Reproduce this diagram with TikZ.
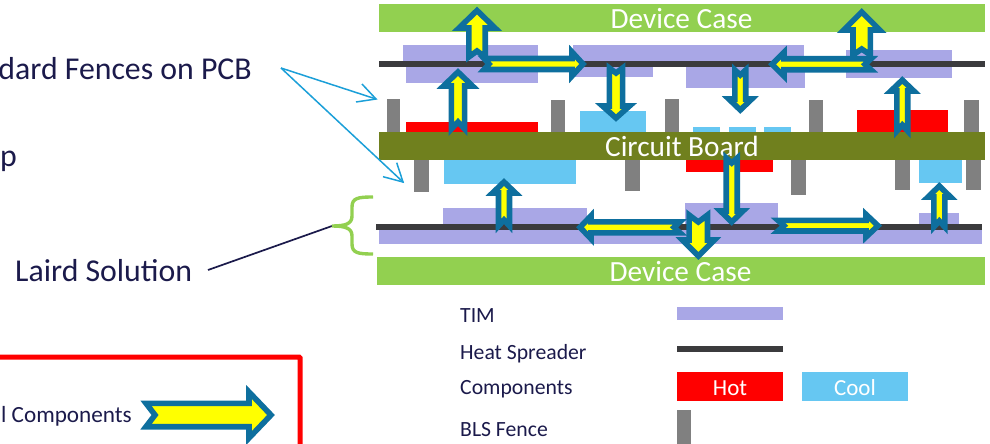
\documentclass[tikz,border=0pt]{standalone}
\usepackage{fontspec}
\setmainfont{Carlito}
\definecolor{timc}{HTML}{A9A7E6}
\definecolor{sprc}{HTML}{3B3B3D}
\definecolor{casec}{HTML}{92D050}
\definecolor{boardc}{HTML}{70801E}
\definecolor{coolc}{HTML}{66C7F2}
\definecolor{fencec}{HTML}{808080}
\definecolor{navyc}{HTML}{1B1A4B}
\definecolor{flowc}{HTML}{0E6F9E}
\definecolor{thinc}{HTML}{1B9FD8}
\definecolor{flowfill}{RGB}{255,255,0}
\definecolor{hotred}{RGB}{255,0,0}
\tikzset{
  x=1pt,y=-1pt,
  tim/.style={fill=timc,draw=none},
  spr/.style={fill=sprc,draw=none},
  casebar/.style={fill=casec,draw=none},
  boardbar/.style={fill=boardc,draw=none},
  hotc/.style={fill=hotred,draw=none},
  cool/.style={fill=coolc,draw=none},
  fence/.style={fill=fencec,draw=none},
  barlabel/.style={text=white,font=\fontsize{29.3}{30}\selectfont,inner sep=0pt,anchor=base},
  leglabel/.style={text=navyc,font=\fontsize{21.7}{22}\selectfont,anchor=base west,inner sep=0pt},
  keylabel/.style={text=white,font=\fontsize{23}{24}\selectfont,anchor=base,inner sep=0pt},
  biglabel/.style={text=navyc,font=\fontsize{31.8}{32}\selectfont,inner sep=0pt},
  flow/.style={fill=flowfill,draw=flowc,line width=5.6pt,line join=miter,miter limit=10},
  thinline/.style={draw=thinc,line width=1.5pt},
}
% x y angle L s h a n
\newcommand{\flowarrow}[8]{%
  \begin{scope}[shift={(#1,#2)},rotate=#3]
    \draw[flow] (0,-#5)--(#4-#7,-#5)--(#4-#7,-#6-1)--(#4,0)--(#4-#7,#6+1)--(#4-#7,#5)--(0,#5)--(#8,0)--cycle;
  \end{scope}}
\newcommand{\barr}[5]{\path[#1] (#2,#3) rectangle (#4,#5);}
\begin{document}
\begin{tikzpicture}
\useasboundingbox (0,0) rectangle (990,444);
\clip (0,0) rectangle (990,444);
% top stack
\barr{casebar}{379}{4}{985}{32}
\barr{tim}{403}{45}{538}{61}
\barr{tim}{406}{66}{538}{83}
\barr{tim}{573}{45}{804}{61}
\barr{tim}{573}{66}{653}{77}
\barr{tim}{686}{66}{805}{88}
\barr{tim}{846}{50}{952}{78}
\barr{spr}{379}{61}{985}{67}
\barr{fence}{387}{99}{400}{133}
\barr{fence}{551}{100}{565}{133}
\barr{fence}{665}{99}{679}{133}
\barr{fence}{809}{100}{823}{133}
\barr{fence}{964}{100}{979}{133}
\barr{hotc}{406}{122}{538}{133}
\barr{cool}{580}{111}{646}{133}
\barr{cool}{693}{127}{720}{133}
\barr{cool}{729}{127}{756}{133}
\barr{cool}{764}{127}{791}{133}
\barr{hotc}{857}{110}{948}{133}
% lower stack
\barr{fence}{414}{160}{429}{192}
\barr{fence}{625}{160}{640}{191}
\barr{fence}{791}{160}{806}{195}
\barr{fence}{895}{160}{910}{190}
\barr{fence}{966}{160}{981}{190}
\barr{cool}{444}{160}{576}{184}
\barr{cool}{919}{159}{962}{183}
\barr{hotc}{686}{160}{773}{172}
\barr{boardbar}{379}{132}{985}{160}
\node[barlabel] (board) at (682,156.5) {Circuit Board};
\barr{tim}{443}{208}{587}{224}
\barr{tim}{685}{203}{778}{224}
\barr{tim}{919}{213}{959}{224}
\barr{tim}{379}{230}{982}{244}
\barr{spr}{376}{224}{982}{230}
\barr{casebar}{377}{257}{985}{285}
\node[barlabel] (topcase) at (681.5,28.2) {Device Case};
\node[barlabel] (botcase) at (680.5,281) {Device Case};
% flow arrows
\flowarrow{477}{57}{90}{46.5}{8.2}{17}{17.5}{6}
\flowarrow{458}{129}{90}{57}{6.6}{13.5}{14}{7}
\flowarrow{484}{64}{0}{99}{5.5}{11}{11}{5}
\flowarrow{616}{68}{-90}{50}{6.6}{12.5}{12}{5}
\flowarrow{871}{64.3}{180}{99}{5.5}{11}{12}{6}
\flowarrow{861.7}{55}{90}{43}{8.7}{17}{18}{6}
\flowarrow{740.3}{70}{-90}{40}{5.4}{10.5}{11}{5}
\flowarrow{902.3}{131}{90}{51}{5.4}{10.5}{11}{6}
\flowarrow{504}{226}{90}{44}{5.5}{10.5}{11}{6}
\flowarrow{680}{227.3}{180}{100}{5.5}{10.5}{11}{6}
\flowarrow{731.7}{158}{-90}{64}{5.5}{10.3}{11}{5}
\flowarrow{778}{225.7}{0}{100}{5.3}{10.3}{12}{6}
\flowarrow{939.3}{227}{90}{41}{5.5}{10.3}{11}{6}
\flowarrow{698.3}{215}{-90}{41}{9.2}{15}{16}{7}
% left annotations
\node[biglabel,anchor=base east] (fences) at (252,79.5) {dard Fences on PCB};
\node[biglabel,anchor=base west] (gap) at (0,166) {p};
\node[biglabel,anchor=base west] (laird) at (15,281) {Laird Solution};
\coordinate (fromfences) at (281,68);
\coordinate (fenceA) at (376,99);
\coordinate (fenceB) at (403,182);
\coordinate (barbA1) at (362,84);
\coordinate (barbA2) at (356,102);
\coordinate (barbB1) at (396.7,162.7);
\coordinate (barbB2) at (383,176.7);
\draw[thinline] (fromfences) -- (fenceA);
\draw[thinline] (fromfences) -- (fenceB);
\draw[thinline] (barbA1) -- (fenceA) -- (barbA2);
\draw[thinline] (barbB1) -- (fenceB) -- (barbB2);
\coordinate (bracetip) at (332,226);
\coordinate (lairdend) at (208,270);
\draw[navyc,line width=1.7pt] (lairdend) -- (bracetip);
\draw[casec,line width=3.4pt] (373,197) .. controls (358,197) and (352,198) .. (352,207)
  -- (352,216) .. controls (352,224) and (345,226) .. (bracetip)
  .. controls (345,226) and (352,228) .. (352,236)
  -- (352,244) .. controls (352,253) and (358,254) .. (373,254);
% red frame
\draw[hotred,line width=5pt,rounded corners=1pt] (-5,357) -- (300,357) -- (300,450);
\node[leglabel,anchor=base east,font=\fontsize{23.2}{24}\selectfont] (flowtext) at (132,422.7) {l Components};
\flowarrow{146}{415}{0}{125}{11.7}{22}{22}{9}
% legend
\node[leglabel] (ltim) at (460,322.5) {TIM};
\node[leglabel] (lspr) at (460,359) {Heat Spreader};
\node[leglabel] (lcomp) at (460,394) {Components};
\node[leglabel] (lbls) at (460,436.5) {BLS Fence};
\barr{tim}{677}{307}{783}{320}
\barr{spr}{677}{346}{783}{352}
\barr{hotc}{677}{372}{783}{401}
\barr{cool}{802}{372}{908}{401}
\node[keylabel] (lhot) at (730,395) {Hot};
\node[keylabel] (lcool) at (855,395) {Cool};
\barr{fence}{677}{410}{691}{444}
\end{tikzpicture}
\end{document}
